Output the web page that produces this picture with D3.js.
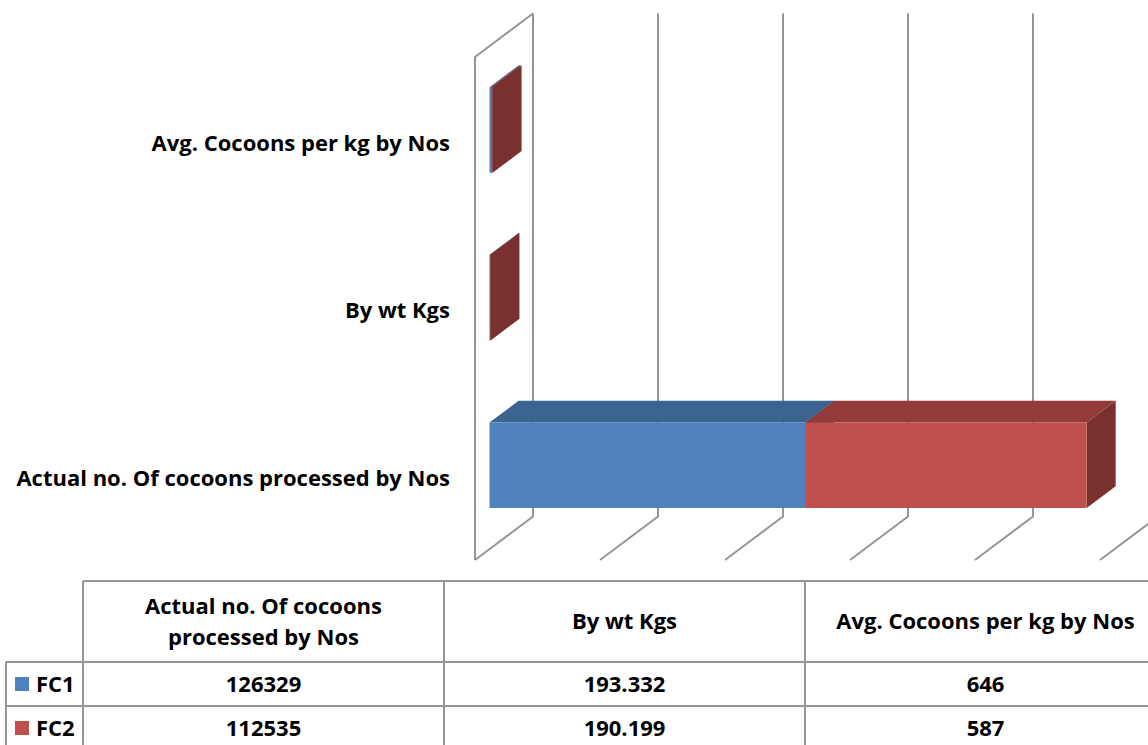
<!DOCTYPE html>
<html>
<head>
<meta charset="utf-8">
<script src="https://cdn.jsdelivr.net/npm/d3@7"></script>
<style>
  body { margin: 0; background: #fff; }
  text { font-family: "Open Sans", Lato, sans-serif; font-weight: bold; fill: #000; }
</style>
</head>
<body>
<script>
// data
var categories = ["Actual no. Of cocoons processed by Nos", "By wt Kgs", "Avg. Cocoons per kg by Nos"];
var seriesNames = ["FC1", "FC2"];
var fc1Values = [126329, 193.332, 646];
var fc2Values = [112535, 190.199, 587];
var xTicks = [0, 50000, 100000, 150000, 200000, 250000];

var colors = {
  FC1: {front: "#4F81BD", top: "#3C6491", side: "#2F4F75"},
  FC2: {front: "#C0504D", top: "#923B39", side: "#7A302E"}
};

var W = 1148, H = 745;
var svg = d3.select("body").append("svg")
    .attr("width", W)
    .attr("height", H);

// 3d box: front plane and depth offset
var front = {left: 475, top: 57, bottom: 560};
var depth = {dx: 58, dy: -43.5};
var barDepth = [0.25, 0.75];

var x = d3.scaleLinear().domain([0, 250000]).range([front.left, front.left + 625]);
var y = d3.scaleBand()
    .domain(categories.slice().reverse())
    .range([front.top, front.bottom])
    .paddingInner(0.49)
    .paddingOuter(0.245);

function P(px, py, d) { return [px + d * depth.dx, py + d * depth.dy]; }
function poly(pts) { return "M" + pts.map(function(p) { return p.join(","); }).join("L") + "Z"; }

var grid = svg.append("g")
    .attr("stroke", "#959595")
    .attr("stroke-width", 2)
    .attr("fill", "none");

// side wall edges
grid.append("path")
    .attr("d", "M" + P(x(0), front.bottom, 0) + "L" + P(x(0), front.top, 0) + "L" + P(x(0), front.top, 1));

// back wall gridlines + floor lines
xTicks.forEach(function(t) {
  grid.append("path")
      .attr("d", "M" + P(x(t), front.top, 1) + "L" + P(x(t), front.bottom, 1) + "L" + P(x(t), front.bottom, 0));
});

// stacked bars
var rows = categories.map(function(c, i) { return {cat: c, FC1: fc1Values[i], FC2: fc2Values[i]}; });
var stack = d3.stack().keys(seriesNames)(rows);

var bars = svg.append("g");
stack.forEach(function(layer) {
  var col = colors[layer.key];
  layer.forEach(function(d) {
    var x0 = x(d[0]), x1 = x(d[1]);
    var yt = y(d.data.cat), yb = yt + y.bandwidth();
    var d0 = barDepth[0], d1 = barDepth[1];
    bars.append("path").attr("fill", col.side)
        .attr("d", poly([P(x1, yt, d0), P(x1, yt, d1), P(x1, yb, d1), P(x1, yb, d0)]));
    bars.append("path").attr("fill", col.top)
        .attr("d", poly([P(x0, yt, d0), P(x1, yt, d0), P(x1, yt, d1), P(x0, yt, d1)]));
    bars.append("path").attr("fill", col.front)
        .attr("d", poly([P(x0, yt, d0), P(x1, yt, d0), P(x1, yb, d0), P(x0, yb, d0)]));
  });
});

// category labels
svg.append("g").selectAll("text")
    .data(categories)
    .enter().append("text")
    .attr("x", 450)
    .attr("y", function(d) { return y(d) + y.bandwidth() / 2 + 2; })
    .attr("dy", "0.35em")
    .attr("text-anchor", "end")
    .attr("font-size", 22)
    .text(function(d) { return d; });

// data table
var tbl = {top: 581, head: 662, row1: 706, bottom: 760, legendLeft: 6};
var col = d3.scaleBand().domain(categories).range([83, 1166]);
var rowY = [tbl.head, tbl.row1];

var lines = svg.append("g")
    .attr("stroke", "#959595")
    .attr("stroke-width", 2)
    .attr("fill", "none");
lines.append("path").attr("d", "M83," + tbl.top + "H1166");
lines.append("path").attr("d", "M" + tbl.legendLeft + "," + tbl.head + "H1166");
lines.append("path").attr("d", "M" + tbl.legendLeft + "," + tbl.row1 + "H1166");
lines.append("path").attr("d", "M" + tbl.legendLeft + "," + tbl.head + "V" + tbl.bottom);
categories.forEach(function(c) {
  lines.append("path").attr("d", "M" + col(c) + "," + tbl.top + "V" + tbl.bottom);
});
lines.append("path").attr("d", "M1166," + tbl.top + "V" + tbl.bottom);

// header cells (wrap long names)
function wrapLines(s) {
  if (s.length < 30) return [s];
  return ["Actual no. Of cocoons", "processed by Nos"];
}
var head = svg.append("g");
categories.forEach(function(c) {
  var ls = wrapLines(c);
  var cy = (tbl.top + tbl.head) / 2;
  ls.forEach(function(l, i) {
    head.append("text")
        .attr("x", col(c) + col.bandwidth() / 2)
        .attr("y", cy + (i - (ls.length - 1) / 2) * 31)
        .attr("dy", "0.35em")
        .attr("text-anchor", "middle")
        .attr("font-size", 22)
        .text(l);
  });
});

// data rows
var vals = [fc1Values, fc2Values];
seriesNames.forEach(function(s, si) {
  var cy = rowY[si] + 22;
  svg.append("rect")
      .attr("x", 15).attr("y", cy - 7)
      .attr("width", 14).attr("height", 14)
      .attr("fill", colors[s].front);
  svg.append("text")
      .attr("x", 36).attr("y", cy)
      .attr("dy", "0.35em")
      .attr("font-size", 22)
      .text(s);
  categories.forEach(function(c, ci) {
    svg.append("text")
        .attr("x", col(c) + col.bandwidth() / 2)
        .attr("y", cy)
        .attr("dy", "0.35em")
        .attr("text-anchor", "middle")
        .attr("font-size", 22)
        .text(String(vals[si][ci]));
  });
});
</script>
</body>
</html>
